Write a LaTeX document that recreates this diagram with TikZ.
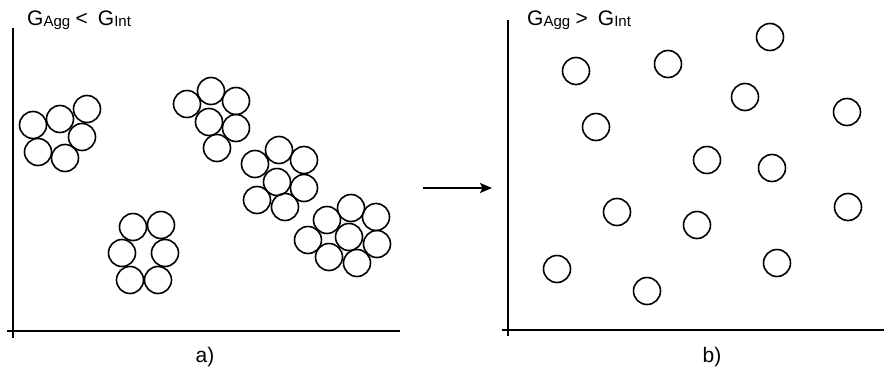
\documentclass[tikz,border=0pt]{standalone}
\usepackage{fontspec}
\setmainfont{Liberation Sans}
\usetikzlibrary{arrows.meta}
\newcommand{\subtxt}[1]{\raisebox{-1.5pt}{\fontsize{15}{16}\selectfont #1}}
\begin{document}
\begin{tikzpicture}[x=1pt,y=-1pt,
  ball/.style={circle,draw,line width=1.6pt,minimum size=27pt,inner sep=0pt},
  axis/.style={line width=2pt},
  lbl/.style={inner sep=0pt,font=\fontsize{21}{22}\selectfont},
  captext/.style={inner sep=0pt,font=\fontsize{21}{22}\selectfont}]
\useasboundingbox (0,0) rectangle (884,370);
% axes left
\coordinate (aTop) at (13,28);
\coordinate (aBot) at (13,338);
\coordinate (aL) at (7,331);
\coordinate (aR) at (400,331);
\draw[axis] (aTop) -- (aBot);
\draw[axis] (aL) -- (aR);
% axes right
\coordinate (bTop) at (508,20);
\coordinate (bBot) at (508,336);
\coordinate (bL) at (502,330);
\coordinate (bR) at (884,330);
\draw[axis] (bTop) -- (bBot);
\draw[axis] (bL) -- (bR);
% titles
\node[lbl,anchor=base west] (tA) at (27,25) {G\subtxt{Agg}\hspace{5.5pt}<\hspace{10pt}G\subtxt{Int}};
\node[lbl,anchor=base west] (tB) at (527,25) {G\subtxt{Agg}\hspace{5.5pt}>\hspace{10pt}G\subtxt{Int}};
\node[captext,anchor=base] (ca) at (205,362) {a)};
\node[captext,anchor=base] (cb) at (712,362) {b)};
% arrow
\coordinate (arS) at (423,188);
\coordinate (arE) at (492,188);
\draw[line width=2pt,-{Stealth[length=12pt,width=10pt,inset=2.5pt]}] (arS) -- (arE);
% left clusters
\foreach \x/\y [count=\i] in {33/125,60/119,87/109,82/137,38/152,65/158,
  187/104,211/91,236/101,209/122,236/128,217/148,
  255/164,279/150,304/160,277/182,304/188,257/200,285/207,
  308/240,327/220,351/208,376/217,349/237,377/244,329/257,357/263,
  133/227,161/225,122/253,165/253,130/280,158/280}
  \node[ball] (l\i) at (\x,\y) {};
% right free particles
\foreach \x/\y [count=\i] in {770/37,576/71,668/64,745/97,847/112,596/127,707/160,772/168,
  617/212,697/225,848/207,557/269,647/291,777/263}
  \node[ball] (r\i) at (\x,\y) {};
\end{tikzpicture}
\end{document}
